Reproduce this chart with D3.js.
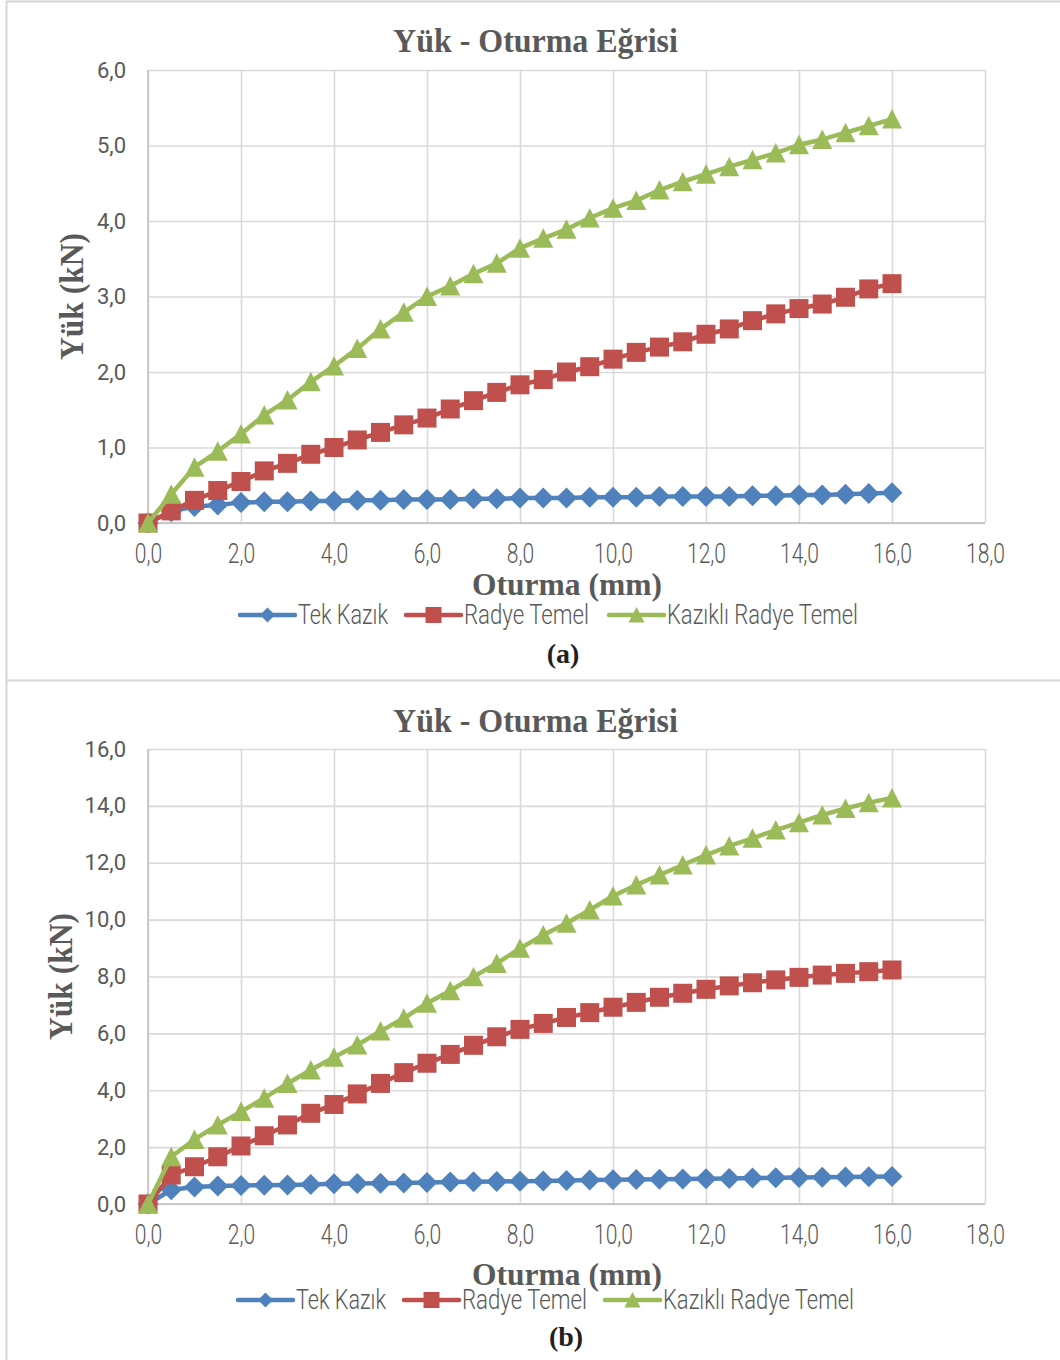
<!DOCTYPE html>
<html>
<head>
<meta charset="utf-8">
<script src="https://cdn.jsdelivr.net/npm/d3@7"></script>
<style>
  body { margin: 0; background: #fff; }
  svg { display: block; }
</style>
</head>
<body>
<svg id="chart" width="1060" height="1360"></svg>
<script>
// Settlement values (mm) shared by every series
const settlement = [0, 0.5, 1, 1.5, 2, 2.5, 3, 3.5, 4, 4.5, 5, 5.5, 6, 6.5, 7, 7.5, 8,
                    8.5, 9, 9.5, 10, 10.5, 11, 11.5, 12, 12.5, 13, 13.5, 14, 14.5, 15, 15.5, 16];

const xTicks = [0, 2, 4, 6, 8, 10, 12, 14, 16, 18];
const yTicksA = [0, 1, 2, 3, 4, 5, 6];
const yTicksB = [0, 2, 4, 6, 8, 10, 12, 14, 16];

const seriesNames = ["Tek Kazık", "Radye Temel", "Kazıklı Radye Temel"];
const chartTitle = "Yük - Oturma Eğrisi";
const xTitle = "Oturma (mm)";
const yTitle = "Yük (kN)";
const captions = ["(a)", "(b)"];

// Panel (a) loads, kN
const tekKazikA = [0, 0.15, 0.22, 0.24, 0.27, 0.28, 0.28, 0.29, 0.29, 0.30, 0.30, 0.31, 0.31, 0.31, 0.32, 0.32, 0.33,
                   0.33, 0.33, 0.34, 0.34, 0.34, 0.35, 0.35, 0.35, 0.35, 0.36, 0.36, 0.37, 0.37, 0.38, 0.39, 0.40];
const radyeTemelA = [0, 0.16, 0.30, 0.43, 0.55, 0.69, 0.79, 0.91, 1.00, 1.10, 1.20, 1.30, 1.39, 1.51, 1.62, 1.73, 1.83,
                     1.90, 2.00, 2.07, 2.17, 2.26, 2.33, 2.40, 2.50, 2.57, 2.68, 2.77, 2.84, 2.90, 2.99, 3.10, 3.17];
const kazikliRadyeA = [0, 0.38, 0.74, 0.95, 1.18, 1.43, 1.63, 1.87, 2.08, 2.31, 2.57, 2.79, 3.00, 3.14, 3.30, 3.44, 3.64,
                       3.77, 3.89, 4.04, 4.17, 4.27, 4.41, 4.52, 4.62, 4.72, 4.81, 4.90, 5.01, 5.08, 5.17, 5.26, 5.35];

// Panel (b) loads, kN
const tekKazikB = [0, 0.50, 0.60, 0.63, 0.65, 0.66, 0.67, 0.69, 0.71, 0.72, 0.73, 0.74, 0.76, 0.77, 0.78, 0.79, 0.80,
                   0.81, 0.83, 0.84, 0.85, 0.86, 0.87, 0.88, 0.89, 0.90, 0.91, 0.92, 0.93, 0.94, 0.95, 0.96, 0.97];
const radyeTemelB = [0, 1.02, 1.31, 1.66, 2.04, 2.40, 2.78, 3.19, 3.50, 3.87, 4.24, 4.62, 4.95, 5.26, 5.58, 5.88, 6.14,
                     6.35, 6.56, 6.73, 6.92, 7.09, 7.27, 7.41, 7.55, 7.67, 7.78, 7.88, 7.97, 8.05, 8.11, 8.17, 8.23];
const kazikliRadyeB = [0, 1.66, 2.27, 2.78, 3.25, 3.72, 4.24, 4.71, 5.16, 5.59, 6.08, 6.53, 7.06, 7.50, 7.99, 8.46, 8.99,
                       9.46, 9.87, 10.34, 10.83, 11.22, 11.57, 11.92, 12.27, 12.59, 12.86, 13.15, 13.41, 13.68, 13.91, 14.11, 14.28];

const colors = ["#4F81BD", "#C0504D", "#9BBB59"];
const SERIF = "'Liberation Serif', 'Times New Roman', serif";
const SANS = "Roboto, 'Liberation Sans', sans-serif";
const TEXT_GRAY = "#595959";
const GRID = "#d9d9d9";

const svg = d3.select("#chart");
const fmt = v => d3.format(".1f")(v).replace(".", ",");

// marker shapes, centred on the data point
const markers = [
  (s) => `M0,${-s}L${s},0L0,${s}L${-s},0Z`,                       // diamond
  (s) => `M${-s},${-s}H${s}V${s}H${-s}Z`,                          // square
  (s) => `M0,${-s}L${s * 1.0},${s * 0.95}L${-s * 1.0},${s * 0.95}Z` // triangle
];
const markerSize = [10.5, 9.5, 10];
const legendMarkerSize = [7.5, 8, 8];

// horizontally scale a text element so that it spans the given width
function fitText(sel, width, x, y, rotate) {
  const w = sel.node().getComputedTextLength();
  const k = width / w;
  sel.attr("transform", `translate(${x},${y})${rotate ? " rotate(" + rotate + ")" : ""} scale(${k},1)`);
}

const xScale = d3.scaleLinear().domain([0, 18]).range([148, 985]);

function drawPanel(cfg) {
  const g = svg.append("g");
  const y = d3.scaleLinear().domain([0, d3.max(cfg.yTicks)]).range([cfg.bottom, cfg.top]);
  const w = xScale.range()[1] - xScale.range()[0];
  const h = cfg.bottom - cfg.top;

  // grid
  const vGrid = g.append("g")
    .attr("transform", `translate(0,${cfg.bottom})`)
    .call(d3.axisBottom(xScale).tickValues(xTicks).tickSize(-h).tickFormat(""));
  const hGrid = g.append("g")
    .attr("transform", `translate(${xScale(0)},0)`)
    .call(d3.axisLeft(y).tickValues(cfg.yTicks).tickSize(-w).tickFormat(""));
  [vGrid, hGrid].forEach(a => {
    a.select(".domain").remove();
    a.selectAll("line").attr("stroke", GRID).attr("stroke-width", 1.6);
  });

  // axis lines
  g.append("line").attr("x1", xScale(0)).attr("x2", xScale(0))
    .attr("y1", cfg.top).attr("y2", cfg.bottom)
    .attr("stroke", "#c8c8c8").attr("stroke-width", 1.8);
  g.append("line").attr("x1", xScale(0)).attr("x2", xScale(18))
    .attr("y1", cfg.bottom).attr("y2", cfg.bottom)
    .attr("stroke", "#c8c8c8").attr("stroke-width", 1.8);

  // tick labels
  const yAx = g.append("g")
    .attr("transform", `translate(${xScale(0)},0)`)
    .call(d3.axisLeft(y).tickValues(cfg.yTicks).tickSize(0).tickPadding(22).tickFormat(fmt));
  yAx.select(".domain").remove();
  yAx.selectAll("text").attr("font-family", SANS).attr("font-size", 22).attr("fill", TEXT_GRAY);

  const xAx = g.append("g")
    .attr("transform", `translate(0,${cfg.bottom})`)
    .call(d3.axisBottom(xScale).tickValues(xTicks).tickSize(0).tickPadding(21).tickFormat(fmt));
  xAx.select(".domain").remove();
  xAx.selectAll("text").attr("font-family", SANS).attr("font-size", 27).attr("font-weight", 300)
    .attr("fill", TEXT_GRAY).attr("transform", "scale(0.78,1)");

  // series: line then markers, drawn in legend order
  const line = d3.line().x((d, i) => xScale(settlement[i])).y(d => y(d));
  cfg.values.forEach((vals, si) => {
    const sg = g.append("g");
    sg.append("path").datum(vals)
      .attr("d", line).attr("fill", "none")
      .attr("stroke", colors[si]).attr("stroke-width", 4.5)
      .attr("stroke-linejoin", "round");
    sg.selectAll("path.mk").data(vals).join("path")
      .attr("class", "mk")
      .attr("transform", (d, i) => `translate(${xScale(settlement[i])},${y(d)})`)
      .attr("d", markers[si](markerSize[si]))
      .attr("fill", colors[si]);
  });

  // chart title
  const t = g.append("text").text(chartTitle)
    .attr("font-family", SERIF).attr("font-weight", "bold").attr("font-size", 33)
    .attr("fill", TEXT_GRAY).attr("text-anchor", "middle");
  fitText(t, 285, 535.5, cfg.titleY);

  // axis titles
  const yt = g.append("text").text(yTitle)
    .attr("font-family", SERIF).attr("font-weight", "bold").attr("font-size", 34)
    .attr("fill", TEXT_GRAY).attr("text-anchor", "middle");
  fitText(yt, 127, cfg.yTitleX, (cfg.top + cfg.bottom) / 2, -90);

  const xt = g.append("text").text(xTitle)
    .attr("font-family", SERIF).attr("font-weight", "bold").attr("font-size", 32)
    .attr("fill", TEXT_GRAY).attr("text-anchor", "middle");
  fitText(xt, 190, 567, cfg.xTitleY);

  // legend
  const lg = g.append("g");
  const textWidths = [90, 125, 191];
  seriesNames.forEach((name, si) => {
    const x0 = cfg.legendX[si];
    lg.append("line").attr("x1", x0).attr("x2", x0 + 55)
      .attr("y1", cfg.legendY).attr("y2", cfg.legendY)
      .attr("stroke", colors[si]).attr("stroke-width", 4.5).attr("stroke-linecap", "round");
    lg.append("path")
      .attr("transform", `translate(${x0 + 27.5},${cfg.legendY})`)
      .attr("d", markers[si](legendMarkerSize[si]))
      .attr("fill", colors[si]);
    const lt = lg.append("text").text(name)
      .attr("font-family", SANS).attr("font-size", 27).attr("font-weight", 300).attr("fill", TEXT_GRAY);
    fitText(lt, textWidths[si], x0 + 58, cfg.legendY + 9);
  });

  // caption
  g.append("text").text(cfg.caption)
    .attr("x", cfg.captionX).attr("y", cfg.captionY)
    .attr("font-family", SERIF).attr("font-weight", "bold").attr("font-size", 28)
    .attr("fill", "#1f1f1f").attr("text-anchor", "middle");
}

// panel frames
const frame = svg.append("g").attr("stroke", "#d6d6d6").attr("stroke-width", 2);
frame.append("line").attr("x1", 6).attr("x2", 1060).attr("y1", 1.5).attr("y2", 1.5);
frame.append("line").attr("x1", 6.5).attr("x2", 6.5).attr("y1", 1).attr("y2", 1360);
frame.append("line").attr("x1", 6).attr("x2", 1060).attr("y1", 680.5).attr("y2", 680.5);

drawPanel({
  top: 70, bottom: 523, yTicks: yTicksA,
  values: [tekKazikA, radyeTemelA, kazikliRadyeA],
  titleY: 52, yTitleX: 83, xTitleY: 595,
  legendY: 615, legendX: [240, 406, 609],
  caption: captions[0], captionX: 563, captionY: 663
});

drawPanel({
  top: 749, bottom: 1204, yTicks: yTicksB,
  values: [tekKazikB, radyeTemelB, kazikliRadyeB],
  titleY: 732, yTitleX: 72, xTitleY: 1285,
  legendY: 1300, legendX: [238, 404, 605],
  caption: captions[1], captionX: 566, captionY: 1346
});
</script>
</body>
</html>
